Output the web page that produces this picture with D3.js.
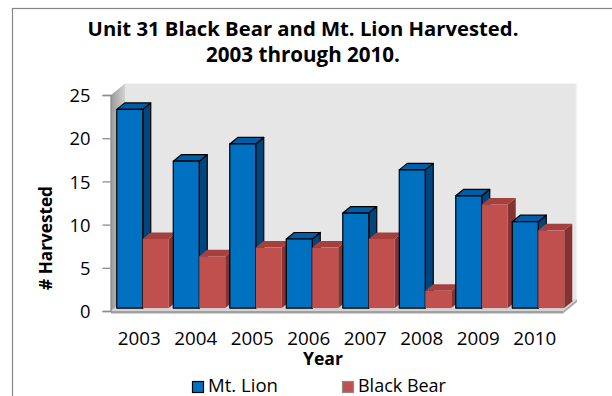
<!DOCTYPE html>
<html>
<head>
<meta charset="utf-8">
<script src="https://cdn.jsdelivr.net/npm/d3@7"></script>
<style>
  body { margin: 0; background: #fff; }
  svg { display: block; }
  text { font-family: "Open Sans", "Liberation Sans", sans-serif; fill: #000; }
</style>
</head>
<body>
<svg id="chart" width="612" height="396"></svg>
<script>
// Harvest counts per year
const years = ["2003", "2004", "2005", "2006", "2007", "2008", "2009", "2010"];
const mtLion = [23, 17, 19, 8, 11, 16, 13, 10];
const blackBear = [8, 6, 7, 7, 8, 2, 12, 9];
const seriesNames = ["Mt. Lion", "Black Bear"];
const yTicks = [0, 5, 10, 15, 20, 25];
const titleLines = ["Unit 31 Black Bear and Mt. Lion Harvested.", "2003 through 2010."];

const series = [
  { name: seriesNames[0], values: mtLion, front: "#0070c0", top: "#005ea8", side: "#00457c", stroke: "#000" },
  { name: seriesNames[1], values: blackBear, front: "#c0504d", top: "#a4413e", side: "#853330", stroke: null }
];

const svg = d3.select("#chart");

// Shrink/grow a text element's font so it spans a given width
function fitWidth(sel, width) {
  sel.each(function () {
    const fs = parseFloat(this.getAttribute("font-size"));
    const len = this.getComputedTextLength();
    if (len > 0) this.setAttribute("font-size", (fs * width / len).toFixed(2));
  });
  return sel;
}

// Outer chart frame
svg.append("rect")
  .attr("x", 12.5).attr("y", 8.5).attr("width", 640).attr("height", 420)
  .attr("fill", "#fff").attr("stroke", "#868686").attr("stroke-width", 1.2);

// Front plane of the plot box
const x0 = d3.scaleBand().domain(years).range([111, 563]).paddingInner(0.08).paddingOuter(0.04);
const x1 = d3.scaleBand().domain(seriesNames).range([0, x0.bandwidth()]);
const y = d3.scaleLinear().domain([0, 25]).range([311, 95]);

// Oblique depth of the box and of the bars
const D = { x: 14, y: -11.5 };
const barShift = { x: 3.5, y: -2.9 };
const barDepth = { x: 8, y: -6.5 };

const xL = x0.range()[0], xR = x0.range()[1];
const yB = y(0), yT = y(25);

const defs = svg.append("defs");
const sideGrad = defs.append("linearGradient").attr("id", "sideWall")
  .attr("x1", 0).attr("x2", 1).attr("y1", 0).attr("y2", 0);
sideGrad.append("stop").attr("offset", 0).attr("stop-color", "#9a9a9a");
sideGrad.append("stop").attr("offset", 1).attr("stop-color", "#d2d2d2");

const pts = a => a.map(p => p.join(",")).join(" ");

// Back wall
svg.append("polygon")
  .attr("points", pts([[xL + D.x, yT + D.y], [xR + D.x, yT + D.y], [xR + D.x, yB + D.y], [xL + D.x, yB + D.y]]))
  .attr("fill", "#e6e6e6");
svg.append("line")
  .attr("x1", xR + D.x - 0.5).attr("x2", xR + D.x - 0.5)
  .attr("y1", yT + D.y).attr("y2", yB + D.y)
  .attr("stroke", "#f2f2f2").attr("stroke-width", 1.5);

// Left side wall
svg.append("polygon")
  .attr("points", pts([[xL, yT], [xL + D.x, yT + D.y], [xL + D.x, yB + D.y], [xL, yB]]))
  .attr("fill", "url(#sideWall)");

// Floor slab
svg.append("polygon")
  .attr("points", pts([[xL, yB], [xR, yB], [xR + D.x, yB + D.y], [xL + D.x, yB + D.y]]))
  .attr("fill", "#d4d4d4");
svg.append("polygon")
  .attr("points", pts([[xR, yB], [xR + D.x, yB + D.y], [xR + D.x, yB + D.y + 2.5], [xR, yB + 2.5]]))
  .attr("fill", "#a8a8a8");
svg.append("rect")
  .attr("x", xL).attr("y", yB).attr("width", xR - xL).attr("height", 2.5)
  .attr("fill", "#a0a0a0");

// Bars, drawn left to right so nearer faces overlap correctly
const barsG = svg.append("g");
years.forEach((yr, i) => {
  series.forEach(s => {
    const v = s.values[i];
    const xl = x0(yr) + x1(s.name) + barShift.x;
    const xr = xl + x1.bandwidth();
    const yt = y(v) + barShift.y;
    const yb = y(0) + barShift.y;
    const g = barsG.append("g")
      .attr("stroke", s.stroke || "none")
      .attr("stroke-width", s.stroke ? 1.2 : 0)
      .attr("stroke-linejoin", "round");
    g.append("polygon")
      .attr("points", pts([[xr, yt], [xr + barDepth.x, yt + barDepth.y], [xr + barDepth.x, yb + barDepth.y], [xr, yb]]))
      .attr("fill", s.side);
    g.append("polygon")
      .attr("points", pts([[xl, yt], [xl + barDepth.x, yt + barDepth.y], [xr + barDepth.x, yt + barDepth.y], [xr, yt]]))
      .attr("fill", s.top);
    g.append("rect")
      .attr("x", xl).attr("y", yt).attr("width", xr - xl).attr("height", yb - yt)
      .attr("fill", s.front);
  });
});

// Value axis
const yAxis = svg.append("g")
  .attr("transform", `translate(${xL - 0.5},0)`)
  .call(d3.axisLeft(y).tickValues(yTicks).tickSize(8).tickPadding(12));
yAxis.select(".domain").attr("stroke", "#8c8c8c").attr("stroke-width", 1.3);
yAxis.selectAll(".tick line").attr("stroke", "#8c8c8c").attr("stroke-width", 1.3);
yAxis.selectAll(".tick text")
  .attr("font-family", null).attr("font-size", 18).attr("fill", "#000")
  .attr("dy", "0.36em");
fitWidth(yAxis.selectAll(".tick text").filter(d => d === 25), 21);
const tickFs = yAxis.selectAll(".tick text").filter(d => d === 25).attr("font-size");
yAxis.selectAll(".tick text").attr("font-size", tickFs);

// Category axis
const xAxis = svg.append("g")
  .attr("transform", `translate(0,${yB})`)
  .call(d3.axisBottom(x0).tickSize(0).tickPadding(21));
xAxis.select(".domain").remove();
xAxis.selectAll(".tick text").attr("font-family", null).attr("font-size", 18).attr("fill", "#000");
fitWidth(xAxis.selectAll(".tick text").filter(d => d === "2003"), 43);
xAxis.selectAll(".tick text").attr("font-size", xAxis.select(".tick text").attr("font-size"));

// Axis titles
fitWidth(svg.append("text")
  .attr("x", 323).attr("y", 365)
  .attr("text-anchor", "middle").attr("font-weight", "bold").attr("font-size", 18)
  .text("Year"), 40);

fitWidth(svg.append("text")
  .attr("transform", "translate(52,238) rotate(-90)")
  .attr("text-anchor", "middle").attr("font-weight", "bold").attr("font-size", 18)
  .text("# Harvested"), 104);

// Chart title
const titleWidths = [431, 194];
const titleY = [36, 62];
titleLines.forEach((t, i) => {
  fitWidth(svg.append("text")
    .attr("x", 303).attr("y", titleY[i])
    .attr("text-anchor", "middle").attr("font-weight", "bold").attr("font-size", 18)
    .text(t), titleWidths[i]);
});

// Legend
const legendX = [192, 342];
const legendTextW = [70, 88];
series.forEach((s, i) => {
  svg.append("rect")
    .attr("x", legendX[i] + 0.5).attr("y", 381.5).attr("width", 11).attr("height", 11)
    .attr("fill", s.front)
    .attr("stroke", s.stroke || "#8a8a8a").attr("stroke-width", 1.2);
  fitWidth(svg.append("text")
    .attr("x", legendX[i] + 16).attr("y", 392)
    .attr("font-size", 18)
    .text(s.name), legendTextW[i]);
});
</script>
</body>
</html>
